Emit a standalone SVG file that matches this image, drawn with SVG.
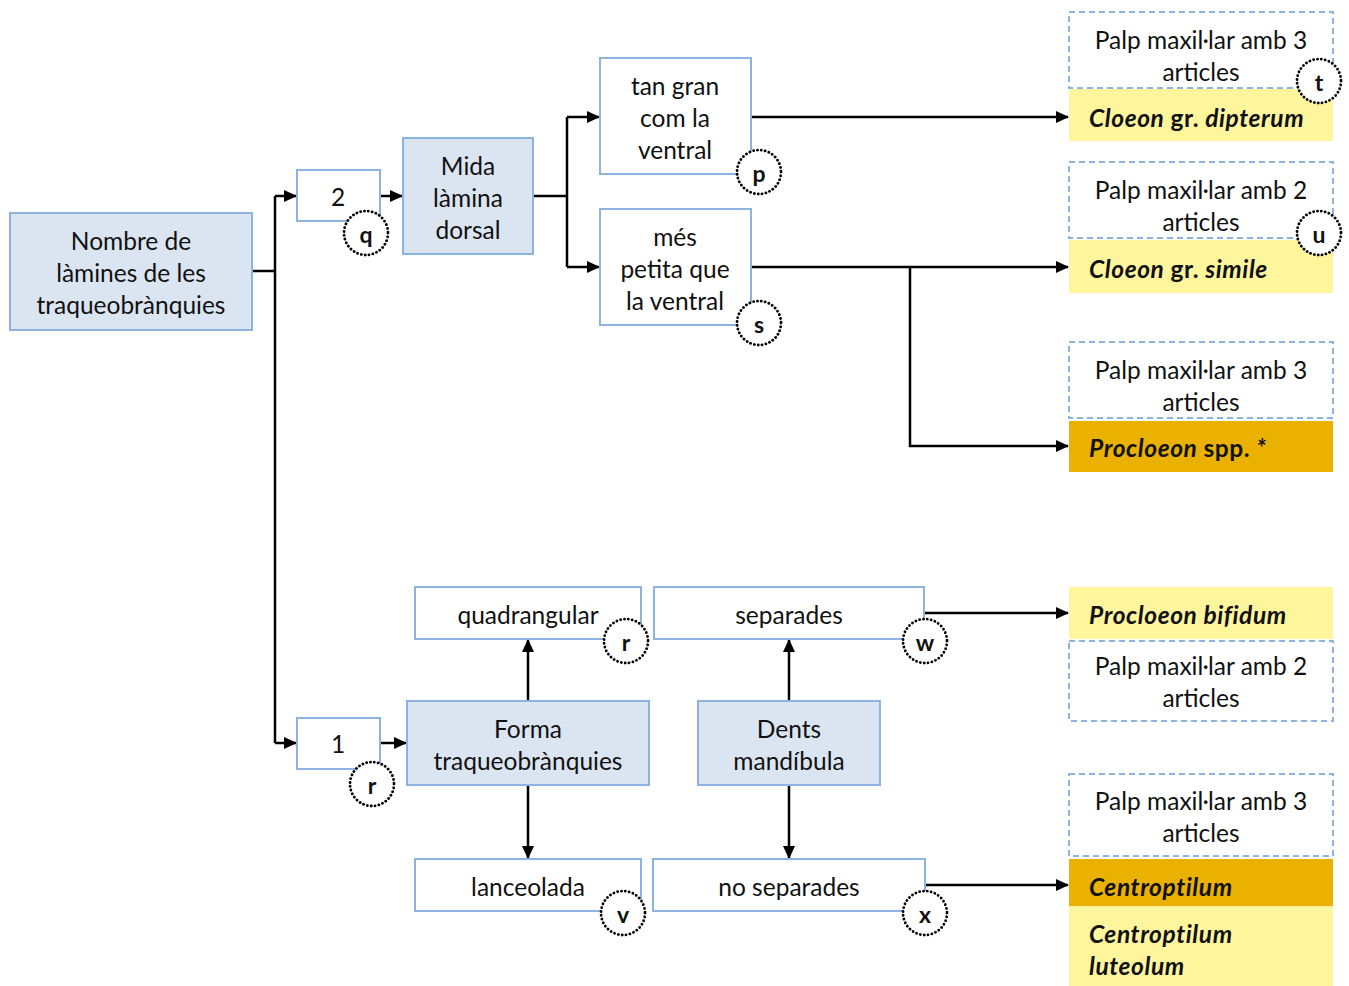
<svg xmlns="http://www.w3.org/2000/svg" width="1349" height="986" viewBox="0 0 1349 986">
<defs>
<marker id="ah" viewBox="0 0 13 12" refX="12" refY="6" markerWidth="13" markerHeight="12" markerUnits="userSpaceOnUse" orient="auto">
<path d="M0,0 L13,6 L0,12 Z" fill="#000"/>
</marker>
<style>
text{font-family:Lato,"Liberation Sans",sans-serif;font-size:24.5px;fill:#111;text-anchor:middle;dominant-baseline:central}
.b{fill:#fff;stroke:#8db3e2;stroke-width:2}
.f{fill:#dbe5f1;stroke:#8db3e2;stroke-width:2}
.d{fill:#fff;stroke:#8db3e2;stroke-width:2;stroke-dasharray:6 4}
.y{fill:#fff59d}
.o{fill:#ebb100}
.c{fill:#fff;stroke:#000;stroke-width:2.8;stroke-dasharray:0.1 3.8;stroke-linecap:round}
.l{font-weight:bold;font-size:23px}
.sp{font-weight:bold;font-style:italic;text-anchor:start;letter-spacing:0.6px}
.con path{fill:none;stroke:#000;stroke-width:2.5}
</style>
</defs>
<rect width="1349" height="986" fill="#fff"/>

<g class="con">
<path d="M252,271 H275"/>
<path d="M275,196 V743"/>
<path d="M275,196 H296" marker-end="url(#ah)"/>
<path d="M275,743 H296" marker-end="url(#ah)"/>
<path d="M380,196 H402" marker-end="url(#ah)"/>
<path d="M533,196 H567"/>
<path d="M567,117 V267"/>
<path d="M567,117 H599" marker-end="url(#ah)"/>
<path d="M567,267 H599" marker-end="url(#ah)"/>
<path d="M751,117 H1068" marker-end="url(#ah)"/>
<path d="M751,267 H1068" marker-end="url(#ah)"/>
<path d="M910,267 V446 H1068" marker-end="url(#ah)"/>
<path d="M380,743 H406" marker-end="url(#ah)"/>
<path d="M528,701 V640" marker-end="url(#ah)"/>
<path d="M528,785 V858" marker-end="url(#ah)"/>
<path d="M789,701 V640" marker-end="url(#ah)"/>
<path d="M789,785 V858" marker-end="url(#ah)"/>
<path d="M924,613 H1068" marker-end="url(#ah)"/>
<path d="M925,885 H1068" marker-end="url(#ah)"/>
</g>

<g id="nombre"><rect class="f" x="10" y="213" width="242" height="117"/>
<text x="131" y="240">Nombre de</text><text x="131" y="272">làmines de les</text><text x="131" y="304">traqueobrànquies</text></g>

<g id="n2"><rect class="b" x="297" y="170" width="83" height="51"/><text x="338" y="196">2</text>
<circle class="c" cx="366" cy="233" r="22"/><text class="l" x="366" y="234">q</text></g>

<g id="mida"><rect class="f" x="403" y="138" width="130" height="116"/>
<text x="468" y="165">Mida</text><text x="468" y="197">làmina</text><text x="468" y="229">dorsal</text></g>

<g id="tangran"><rect class="b" x="600" y="58" width="151" height="116"/>
<text x="675" y="85">tan gran</text><text x="675" y="117">com la</text><text x="675" y="149">ventral</text>
<circle class="c" cx="759" cy="172" r="22"/><text class="l" x="759" y="173">p</text></g>

<g id="mespetita"><rect class="b" x="600" y="209" width="151" height="116"/>
<text x="675" y="236">més</text><text x="675" y="268">petita que</text><text x="675" y="300">la ventral</text>
<circle class="c" cx="759" cy="323" r="22"/><text class="l" x="759" y="324">s</text></g>

<g id="palp1"><rect class="d" x="1069" y="12" width="264" height="76"/>
<text x="1201" y="39">Palp maxil·lar amb 3</text><text x="1201" y="71">articles</text></g>
<g id="dipterum"><rect class="y" x="1069" y="89" width="264" height="52"/>
<text class="sp" x="1089" y="117">Cloeon <tspan font-style="normal">gr.</tspan> dipterum</text>
<circle class="c" cx="1319" cy="81" r="22"/><text class="l" x="1319" y="82">t</text></g>

<g id="palp2"><rect class="d" x="1069" y="162" width="264" height="76"/>
<text x="1201" y="189">Palp maxil·lar amb 2</text><text x="1201" y="221">articles</text></g>
<g id="simile"><rect class="y" x="1069" y="240" width="264" height="53"/>
<text class="sp" x="1089" y="268">Cloeon <tspan font-style="normal">gr.</tspan> simile</text>
<circle class="c" cx="1319" cy="233" r="22"/><text class="l" x="1319" y="234">u</text></g>

<g id="palp3"><rect class="d" x="1069" y="342" width="264" height="76"/>
<text x="1201" y="369">Palp maxil·lar amb 3</text><text x="1201" y="401">articles</text></g>
<g id="procloeon"><rect class="o" x="1069" y="421" width="264" height="51"/>
<text class="sp" x="1089" y="447">Procloeon <tspan font-style="normal">spp.</tspan> *</text></g>

<g id="bifidum"><rect class="y" x="1069" y="587" width="264" height="52"/>
<text class="sp" x="1089" y="614">Procloeon bifidum</text></g>
<g id="palp4"><rect class="d" x="1069" y="641" width="264" height="80"/>
<text x="1201" y="665">Palp maxil·lar amb 2</text><text x="1201" y="697">articles</text></g>

<g id="palp5"><rect class="d" x="1069" y="774" width="264" height="82"/>
<text x="1201" y="800">Palp maxil·lar amb 3</text><text x="1201" y="832">articles</text></g>
<g id="centroptilum"><rect class="o" x="1069" y="859" width="264" height="47"/>
<text class="sp" x="1089" y="886">Centroptilum</text></g>
<g id="luteolum"><rect class="y" x="1069" y="906" width="264" height="80"/>
<text class="sp" x="1089" y="933">Centroptilum</text><text class="sp" x="1089" y="965">luteolum</text></g>

<g id="n1"><rect class="b" x="297" y="718" width="83" height="51"/><text x="338" y="743">1</text>
<circle class="c" cx="372" cy="784" r="22"/><text class="l" x="372" y="785">r</text></g>

<g id="forma"><rect class="f" x="407" y="701" width="242" height="84"/>
<text x="528" y="728">Forma</text><text x="528" y="760">traqueobrànquies</text></g>

<g id="quadrangular"><rect class="b" x="415" y="587" width="226" height="52"/>
<text x="528" y="614">quadrangular</text>
<circle class="c" cx="626" cy="641" r="22"/><text class="l" x="626" y="642">r</text></g>

<g id="lanceolada"><rect class="b" x="415" y="859" width="226" height="52"/>
<text x="528" y="886">lanceolada</text>
<circle class="c" cx="623" cy="913" r="22"/><text class="l" x="623" y="914">v</text></g>

<g id="dents"><rect class="f" x="698" y="701" width="182" height="84"/>
<text x="789" y="728">Dents</text><text x="789" y="760">mandíbula</text></g>

<g id="separades"><rect class="b" x="654" y="587" width="270" height="52"/>
<text x="789" y="614">separades</text>
<circle class="c" cx="925" cy="641" r="22"/><text class="l" x="925" y="642">w</text></g>

<g id="noseparades"><rect class="b" x="653" y="859" width="272" height="52"/>
<text x="789" y="886">no separades</text>
<circle class="c" cx="925" cy="913" r="22"/><text class="l" x="925" y="914">x</text></g>
</svg>
